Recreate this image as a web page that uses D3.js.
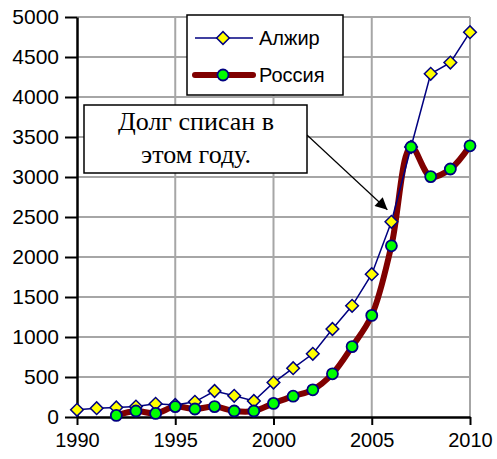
<!DOCTYPE html>
<html>
<head>
<meta charset="utf-8">
<script src="https://cdn.jsdelivr.net/npm/d3@7"></script>
<style>
  body { margin: 0; background: #fff; }
  text { font-family: Arial, "Liberation Sans", sans-serif; }
</style>
</head>
<body>
<div id="chart"></div>
<script>
// Data
const algeriaYears = [1990, 1991, 1992, 1993, 1994, 1995, 1996, 1997, 1998, 1999, 2000,
  2001, 2002, 2003, 2004, 2005, 2006, 2007, 2008, 2009, 2010];
const algeriaValues = [90, 110, 120, 130, 165, 150, 190, 325, 265, 200, 430,
  610, 790, 1100, 1390, 1785, 2440, 3375, 4290, 4430, 4810];
const russiaYears = [1992, 1993, 1994, 1995, 1996, 1997, 1998, 1999, 2000,
  2001, 2002, 2003, 2004, 2005, 2006, 2007, 2008, 2009, 2010];
const russiaValues = [20, 75, 45, 130, 100, 130, 75, 75, 170,
  260, 340, 540, 880, 1270, 2140, 3375, 3005, 3100, 3390];
const yTicks = [0, 500, 1000, 1500, 2000, 2500, 3000, 3500, 4000, 4500, 5000];
const xTicks = [1990, 1995, 2000, 2005, 2010];
const seriesNames = ["Алжир", "Россия"];
const noteLines = ["Долг списан в", "этом году."];
const noteYear = 2006, noteValue = 2440;

const W = 497, H = 459;
const margin = { top: 17, right: 27, bottom: 42, left: 77 };
const width = W - margin.left - margin.right;
const height = H - margin.top - margin.bottom;

const svg = d3.select("#chart").append("svg")
  .attr("width", W).attr("height", H);
const g = svg.append("g")
  .attr("transform", `translate(${margin.left},${margin.top})`);

const x = d3.scaleLinear().domain([1990, 2010]).range([0, width]);
const y = d3.scaleLinear().domain([0, 5000]).range([height, 0]);

// gridlines
g.append("g").selectAll("line").data(yTicks.slice(1)).enter().append("line")
  .attr("x1", 0).attr("x2", width)
  .attr("y1", d => y(d)).attr("y2", d => y(d))
  .attr("stroke", "#a6a6a6").attr("stroke-width", 2);
g.append("g").selectAll("line").data(xTicks.slice(1)).enter().append("line")
  .attr("y1", 0).attr("y2", height)
  .attr("x1", d => x(d)).attr("x2", d => x(d))
  .attr("stroke", "#a6a6a6").attr("stroke-width", 2);

// axes
const yAxis = g.append("g")
  .call(d3.axisLeft(y).tickValues(yTicks).tickFormat(d3.format("d"))
    .tickSize(12).tickPadding(6).tickSizeOuter(0));
const xAxis = g.append("g").attr("transform", `translate(0,${height})`)
  .call(d3.axisBottom(x).tickValues(xTicks).tickFormat(d3.format("d"))
    .tickSize(8).tickPadding(8).tickSizeOuter(0));
[yAxis, xAxis].forEach(a => {
  a.select(".domain").attr("stroke", "#000").attr("stroke-width", 2.5);
  a.selectAll(".tick line").attr("stroke", "#000").attr("stroke-width", 2);
  a.selectAll(".tick text").attr("fill", "#000")
    .style("font-size", "20px").style("font-family", "Arial, 'Liberation Sans', sans-serif");
});
yAxis.selectAll(".tick text").style("font-size", "21px");

const algeria = algeriaYears.map((d, i) => ({ year: d, value: algeriaValues[i] }));
const russia = russiaYears.map((d, i) => ({ year: d, value: russiaValues[i] }));

// Russia: thick smoothed line
g.append("path").datum(russia)
  .attr("fill", "none").attr("stroke", "#800000").attr("stroke-width", 6)
  .attr("stroke-linejoin", "round")
  .attr("d", d3.line().x(d => x(d.year)).y(d => y(d.value)).curve(d3.curveCatmullRom.alpha(0.5)));

// Algeria: thin navy line
g.append("path").datum(algeria)
  .attr("fill", "none").attr("stroke", "#000080").attr("stroke-width", 1.5)
  .attr("d", d3.line().x(d => x(d.year)).y(d => y(d.value)));

const diamond = d3.symbol().type(d3.symbolSquare).size(80);
g.append("g").selectAll("path").data(algeria).enter().append("path")
  .attr("d", diamond)
  .attr("transform", d => `translate(${x(d.year)},${y(d.value)}) rotate(45)`)
  .attr("fill", "#ffff00").attr("stroke", "#000080").attr("stroke-width", 1.5);

g.append("g").selectAll("circle").data(russia).enter().append("circle")
  .attr("cx", d => x(d.year)).attr("cy", d => y(d.value)).attr("r", 5.5)
  .attr("fill", "#00ff00").attr("stroke", "#000080").attr("stroke-width", 1.8);

// legend
const legend = svg.append("g").attr("transform", "translate(187,15)");
legend.append("rect").attr("width", 156).attr("height", 80)
  .attr("fill", "#fff").attr("stroke", "#000").attr("stroke-width", 1.5);
const l1 = legend.append("g").attr("transform", "translate(0,23)");
l1.append("line").attr("x1", 8).attr("x2", 66).attr("stroke", "#000080").attr("stroke-width", 1.5);
l1.append("path").attr("d", diamond).attr("transform", "translate(36,0) rotate(45)")
  .attr("fill", "#ffff00").attr("stroke", "#000080").attr("stroke-width", 1.5);
l1.append("text").attr("x", 72).attr("dy", "0.35em").style("font-size", "20px").text(seriesNames[0]);
const l2 = legend.append("g").attr("transform", "translate(0,60)");
l2.append("line").attr("x1", 8).attr("x2", 66).attr("stroke", "#800000").attr("stroke-width", 6)
  .attr("stroke-linecap", "round");
l2.append("circle").attr("cx", 36).attr("r", 5.5)
  .attr("fill", "#00ff00").attr("stroke", "#000080").attr("stroke-width", 1.8);
l2.append("text").attr("x", 72).attr("dy", "0.35em").style("font-size", "20px").text(seriesNames[1]);

// annotation
svg.append("defs").append("marker")
  .attr("id", "arrow").attr("viewBox", "0 0 10 10").attr("refX", 10).attr("refY", 5)
  .attr("markerWidth", 14).attr("markerHeight", 12).attr("markerUnits", "userSpaceOnUse")
  .attr("orient", "auto")
  .append("path").attr("d", "M0,0L10,5L0,10z").attr("fill", "#000");
const tipX = margin.left + x(noteYear) - 4, tipY = margin.top + y(noteValue) - 12;
svg.append("line")
  .attr("x1", 307).attr("y1", 135).attr("x2", tipX).attr("y2", tipY)
  .attr("stroke", "#000").attr("stroke-width", 1.2)
  .attr("marker-end", "url(#arrow)");
const note = svg.append("g").attr("transform", "translate(84,105)");
note.append("rect").attr("width", 223).attr("height", 68)
  .attr("fill", "#fff").attr("stroke", "#000").attr("stroke-width", 1.5);
note.selectAll("text").data(noteLines).enter().append("text")
  .attr("x", 112).attr("y", (d, i) => 25 + i * 33)
  .attr("text-anchor", "middle")
  .style("font-family", "'Times New Roman', 'Liberation Serif', serif")
  .style("font-size", "26px")
  .text(d => d);
</script>
</body>
</html>
